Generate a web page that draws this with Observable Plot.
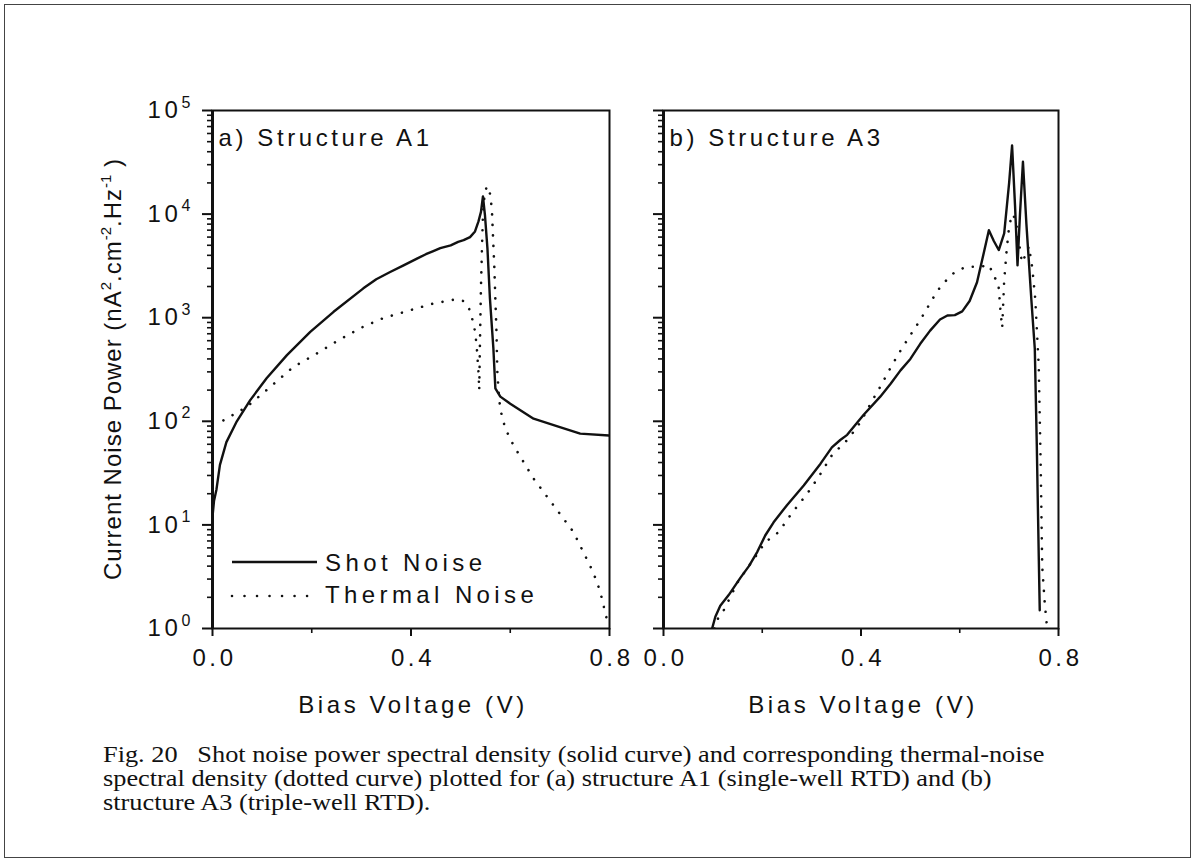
<!DOCTYPE html>
<html>
<head>
<meta charset="utf-8">
<script src="https://cdn.jsdelivr.net/npm/d3@7"></script>
<script src="https://cdn.jsdelivr.net/npm/@observablehq/plot@0.6"></script>
<style>
  body { margin: 0; background: #fff; }
  #page { position: relative; width: 1198px; height: 867px; background: #fff; overflow: hidden; }
  .abs { position: absolute; }
  #border { left: 4px; top: 4px; width: 1185px; height: 852px; border: 1.5px solid #444; }
  #ytitle { left: 112px; top: 369px; transform: translate(-50%, -50%) rotate(-90deg); white-space: nowrap;
            font-family: 'Liberation Sans', Arial, sans-serif; font-size: 24px; letter-spacing: 1px; color: #111; }
  #ytitle sup { font-size: 15px; vertical-align: 10px; letter-spacing: 0; }
  #caption { left: 103px; top: 742px; width: 960px; font-family: 'Liberation Serif', 'Times New Roman', serif;
             font-size: 23.5px; line-height: 24px; color: #111; white-space: nowrap;
             transform: scaleX(1.12); transform-origin: left top; }
  #legend { left: 0; top: 0; }
</style>
</head>
<body>
<div id="page">
  <div id="border" class="abs"></div>
  <div id="chartA" class="abs" style="left:0;top:0"></div>
  <div id="chartB" class="abs" style="left:634px;top:0"></div>
  <div id="ytitle" class="abs">Current Noise Power (nA<sup>2</sup>.cm<sup>-2</sup>.Hz<sup>-1</sup> )</div>
  <svg id="legend" class="abs" width="600" height="640" style="font-family:'Liberation Sans',Arial,sans-serif;font-size:24px;letter-spacing:4.4px">
    <line x1="232" x2="317" y1="562" y2="562" stroke="#111" stroke-width="2.4"/>
    <text x="325" y="571" fill="#111">Shot Noise</text>
    <line x1="232" x2="310" y1="596" y2="596" stroke="#111" stroke-width="2.6" stroke-dasharray="0.01 12.5" stroke-linecap="round"/>
    <text x="325" y="603" fill="#111">Thermal Noise</text>
  </svg>
  <div id="caption" class="abs">Fig. 20&nbsp;&nbsp; Shot noise power spectral density (solid curve) and corresponding thermal-noise<br>spectral density (dotted curve) plotted for (a) structure A1 (single-well RTD) and (b)<br>structure A3 (triple-well RTD).</div>
</div>
<script>
// ---- Axis ticks ----
const xTicksMajor = [0, 0.4, 0.8];
const xTickLabels = ["0.0", "0.4", "0.8"];
const xTicksMinor = [0.2, 0.6];
const yDecades = [1, 10, 100, 1000, 10000, 100000];
const yExponents = ["0", "1", "2", "3", "4", "5"];
const yMinorMultipliers = [2, 3, 4, 5, 6, 7, 8, 9];

// ---- Panel a) Structure A1 ----
const shotA_V = [0, 0.003, 0.008, 0.015, 0.028, 0.049, 0.076, 0.109, 0.15, 0.197, 0.244, 0.304, 0.33, 0.358, 0.385, 0.411, 0.43, 0.445, 0.459, 0.48, 0.495, 0.506, 0.519, 0.529, 0.536, 0.541, 0.545, 0.549, 0.554, 0.559, 0.566, 0.570, 0.580, 0.60, 0.647, 0.70, 0.741, 0.80];
const shotA_P = [12, 17, 22, 38, 63, 100, 160, 260, 435, 730, 1140, 1920, 2350, 2760, 3200, 3700, 4100, 4400, 4700, 5000, 5400, 5600, 6000, 6800, 8500, 10500, 14800, 9800, 4700, 1550, 506, 208, 173, 148, 106, 88, 76, 73];

const thermA_V = [0.022, 0.045, 0.069, 0.109, 0.163, 0.203, 0.25, 0.297, 0.344, 0.398, 0.445, 0.492, 0.505, 0.516, 0.527, 0.532, 0.536, 0.5375, 0.539, 0.541, 0.543, 0.545, 0.548, 0.552, 0.556, 0.560, 0.563, 0.566, 0.568, 0.570, 0.572, 0.574, 0.577, 0.580, 0.590, 0.607, 0.647, 0.687, 0.727, 0.747, 0.767, 0.781, 0.791, 0.797];
const thermA_P = [102, 118, 138, 200, 335, 430, 590, 790, 990, 1180, 1370, 1510, 1450, 1270, 850, 560, 300, 200, 600, 2000, 4700, 10000, 15000, 18000, 18500, 15000, 11000, 5000, 3000, 1500, 800, 300, 180, 130, 85, 58, 28, 15.5, 8.6, 5.5, 3.5, 2.3, 1.45, 1.1];

// ---- Panel b) Structure A3 ----
const shotB_V = [0.0985, 0.105, 0.115, 0.132, 0.156, 0.173, 0.19, 0.206, 0.223, 0.25, 0.284, 0.318, 0.341, 0.358, 0.372, 0.405, 0.439, 0.46, 0.48, 0.50, 0.52, 0.54, 0.56, 0.575, 0.59, 0.605, 0.62, 0.635, 0.65, 0.659, 0.669, 0.679, 0.69, 0.70, 0.706, 0.712, 0.717, 0.722, 0.728, 0.735, 0.745, 0.752, 0.756, 0.760, 0.762];
const shotB_P = [1.0, 1.3, 1.66, 2.1, 3.1, 4.0, 5.5, 7.9, 10.6, 15.5, 24, 39, 56, 66, 74, 115, 173, 230, 310, 400, 560, 750, 960, 1050, 1060, 1150, 1450, 2200, 4500, 7000, 5500, 4500, 6500, 20000, 46000, 12000, 3200, 10000, 32000, 8000, 1500, 500, 60, 5, 1.5];

const thermB_V = [0.103, 0.108, 0.122, 0.152, 0.179, 0.206, 0.233, 0.26, 0.291, 0.314, 0.341, 0.375, 0.40, 0.42, 0.44, 0.46, 0.48, 0.50, 0.52, 0.554, 0.569, 0.588, 0.612, 0.639, 0.661, 0.666, 0.678, 0.683, 0.686, 0.690, 0.695, 0.700, 0.706, 0.713, 0.720, 0.726, 0.733, 0.740, 0.747, 0.753, 0.760, 0.764, 0.767, 0.772, 0.777];
const thermB_P = [1.0, 1.2, 1.5, 2.9, 4.4, 6.8, 8.5, 13, 20, 29, 47, 68, 100, 150, 220, 330, 480, 680, 950, 1800, 2200, 2700, 3100, 3100, 3200, 2600, 2200, 1100, 800, 2300, 4500, 7600, 10000, 9000, 5300, 3400, 4000, 4900, 3000, 1500, 340, 37, 4, 1.8, 1.0];

const rows = (xs, ys) => xs.map((v, i) => ({V: v, P: ys[i]}));
const yMinor = yDecades.slice(0, -1).flatMap(d => yMinorMultipliers.map(m => m * d));
const ink = "#111";

function panel({shot, thermal, label, yLabels, width, marginLeft, marginRight}) {
  const marks = [
    Plot.line(shot, {x: "V", y: "P", stroke: ink, strokeWidth: 2.4, clip: true}),
    Plot.line(thermal, {x: "V", y: "P", stroke: ink, strokeWidth: 2.6, strokeDasharray: "0.01 10.5", strokeLinecap: "round", clip: true}),
    Plot.frame({stroke: ink, strokeWidth: 2}),
    Plot.ruleX([0], {stroke: ink, strokeWidth: 3}),
    Plot.axisY({ticks: yDecades, tickSize: 10, tickFormat: () => "", stroke: ink, strokeWidth: 2, label: null}),
    Plot.axisY({ticks: yMinor, tickSize: 5, tickFormat: () => "", stroke: ink, strokeWidth: 1.6, label: null}),
    Plot.axisX({ticks: xTicksMajor, tickSize: 8, tickFormat: () => "", stroke: ink, strokeWidth: 2, label: null}),
    Plot.axisX({ticks: xTicksMinor, tickSize: 5, tickFormat: () => "", stroke: ink, strokeWidth: 1.6, label: null}),
    Plot.text(xTicksMajor, {x: d => d, frameAnchor: "bottom", text: (d, i) => xTickLabels[i], lineAnchor: "top", dy: 20, dx: 2, fill: ink}),
    Plot.text(["Bias Voltage (V)"], {frameAnchor: "bottom", lineAnchor: "top", dy: 67, dx: 2, fill: ink}),
    Plot.text([label], {frameAnchor: "top-left", lineAnchor: "top", dx: 6, dy: 18, fill: ink})
  ];
  if (yLabels) {
    marks.push(
      Plot.text(yDecades, {y: d => d, frameAnchor: "left", text: () => "10", textAnchor: "start", dx: -65, fill: ink}),
      Plot.text(yDecades, {y: d => d, frameAnchor: "left", text: (d, i) => yExponents[i], textAnchor: "start", dx: -31, dy: -8, fontSize: 16, fill: ink})
    );
  }
  return Plot.plot({
    width, height: 740,
    marginLeft, marginRight, marginTop: 110, marginBottom: 112,
    x: {domain: [0, 0.8], label: null},
    y: {type: "log", domain: [1, 1e5], label: null},
    style: {fontFamily: "'Liberation Sans', Arial, sans-serif", fontSize: "24px", letterSpacing: "3.6px", color: ink, background: "transparent", overflow: "visible"},
    marks
  });
}

document.getElementById("chartA").append(panel({
  shot: rows(shotA_V, shotA_P), thermal: rows(thermA_V, thermA_P),
  label: "a) Structure A1", yLabels: true, width: 634, marginLeft: 212, marginRight: 25
}));
document.getElementById("chartB").append(panel({
  shot: rows(shotB_V, shotB_P), thermal: rows(thermB_V, thermB_P),
  label: "b) Structure A3", yLabels: false, width: 454, marginLeft: 29, marginRight: 30
}));
</script>
</body>
</html>
